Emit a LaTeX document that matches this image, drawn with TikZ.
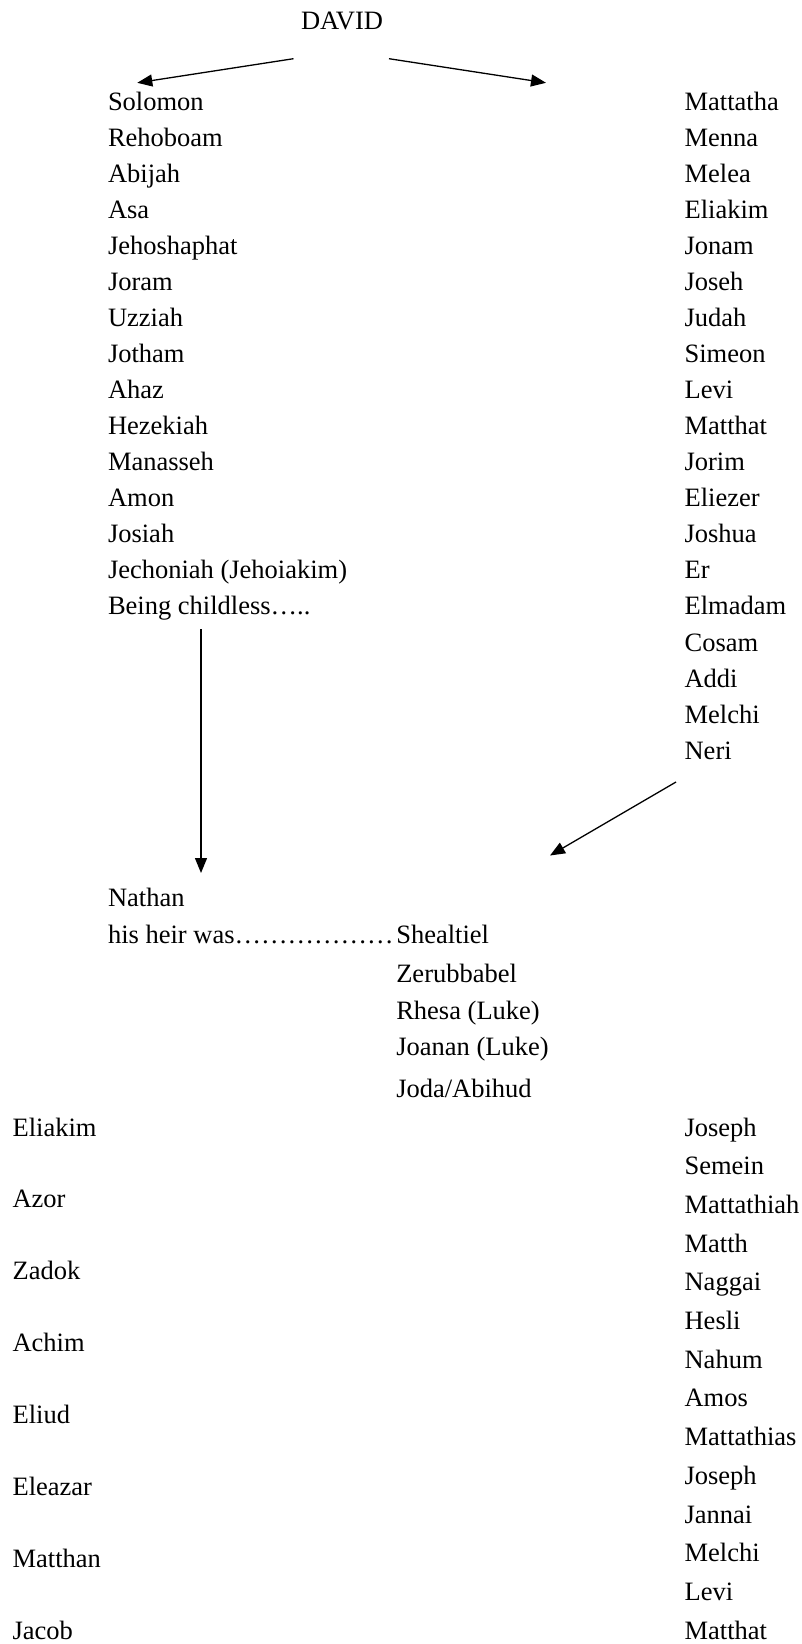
\documentclass[tikz,border=0pt]{standalone}
\usepackage{fontspec}
\setmainfont{Liberation Serif}
\usetikzlibrary{arrows.meta}
\begin{document}
\begin{tikzpicture}[x=1pt,y=-1pt,
  nm/.style={anchor=base west,inner sep=0pt,outer sep=0pt,font=\fontsize{26.5}{30}\selectfont},
  arr/.style={line width=1.3pt,-{Triangle[length=15pt,width=12pt]}}]
\useasboundingbox (0,0) rectangle (801,1644);
\node[nm] (david) at (301,29) {DAVID};
% left column (Matthew)
\foreach \t [count=\i from 0] in {Solomon,Rehoboam,Abijah,Asa,Jehoshaphat,Joram,Uzziah,Jotham,Ahaz,Hezekiah,Manasseh,Amon,Josiah,Jechoniah (Jehoiakim),Being childless…..}
  \node[nm] (L\i) at (108,{110+36.07*\i}) {\t};
% right column (Luke)
\foreach \t [count=\i from 0] in {Mattatha,Menna,Melea,Eliakim,Jonam,Joseh,Judah,Simeon,Levi,Matthat,Jorim,Eliezer,Joshua,Er,Elmadam,Cosam,Addi,Melchi,Neri}
  \node[nm] (R\i) at (684.6,{110+36.07*\i}) {\t};
% middle
\node[nm] (nathan) at (108,906.5) {Nathan};
\node[nm] (heir) at (108,943.5) {his heir was………………};
\node[nm] (M0) at (396.3,943.5) {Shealtiel};
\node[nm] (M1) at (396.3,982) {Zerubbabel};
\node[nm] (M2) at (396.3,1019) {Rhesa (Luke)};
\node[nm] (M3) at (396.3,1055) {Joanan (Luke)};
\node[nm] (M4) at (396.3,1097) {Joda/Abihud};
% lower left
\foreach \t [count=\i from 0] in {Eliakim,Azor,Zadok,Achim,Eliud,Eleazar,Matthan,Jacob}
  \node[nm] (LL\i) at (12.6,{1136+71.9*\i}) {\t};
% lower right
\foreach \t [count=\i from 0] in {Joseph,Semein,Mattathiah,Matth,Naggai,Hesli,Nahum,Amos,Mattathias,Joseph,Jannai,Melchi,Levi,Matthat}
  \node[nm] (LR\i) at (684.6,{1136+38.7*\i}) {\t};
% arrow end points
\coordinate (a1s) at (293.5,58.7);
\coordinate (a1e) at (137.3,82.8);
\coordinate (a2s) at (389,58.7);
\coordinate (a2e) at (546,82.8);
\coordinate (a3s) at (201,629);
\coordinate (a3e) at (201,873);
\coordinate (a4s) at (676,782);
\coordinate (a4e) at (550,855.5);
\draw[arr] (a1s) -- (a1e);
\draw[arr] (a2s) -- (a2e);
\draw[arr] (a3s) -- (a3e);
\draw[arr] (a4s) -- (a4e);
\end{tikzpicture}
\end{document}
